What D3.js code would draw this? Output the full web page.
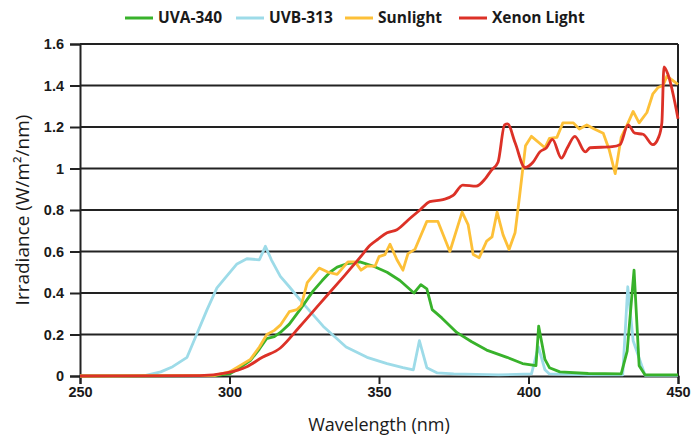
<!DOCTYPE html>
<html><head><meta charset="utf-8">
<script src="https://cdn.jsdelivr.net/npm/d3@7"></script>
<style>
html,body{margin:0;padding:0;background:#fff;}
svg{display:block;font-family:"Open Sans","Noto Sans",sans-serif;}
</style></head>
<body>
<svg id="chart" width="698" height="437"></svg>
<script>
// ---- data (wavelength nm, irradiance W/m²/nm) ----
const seriesNames = ["UVA-340", "UVB-313", "Sunlight", "Xenon Light"];
const seriesColors = ["#38b22b", "#9ddbe8", "#fdc038", "#dc3127"];
const xTicks = [250, 300, 350, 400, 450];
const yTicks = [0, 0.2, 0.4, 0.6, 0.8, 1, 1.2, 1.4, 1.6];

const uvb313 = [[250,0],[260,0],[272,0.003],[277,0.02],[281,0.045],[285.8,0.09],[289,0.2],[292.5,0.32],[295.8,0.425],[299,0.48],[302.5,0.54],[305.8,0.565],[310,0.56],[312,0.625],[314,0.56],[317,0.48],[320,0.43],[324.6,0.35],[331.3,0.24],[339,0.14],[346,0.09],[352.7,0.06],[358,0.04],[361.5,0.03],[363.5,0.17],[366,0.04],[369.5,0.015],[375,0.01],[390,0.005],[401,0.01],[403.3,0.14],[405.5,0.03],[407,0.01],[420,0.005],[431.5,0.005],[433.2,0.43],[435,0.17],[439,0.003],[450,0.003]];

const uva340 = [[250,0],[295,0.002],[300,0.01],[303.5,0.04],[307,0.075],[310,0.13],[312.4,0.18],[315,0.19],[317,0.21],[320,0.25],[323.6,0.32],[328,0.41],[331,0.46],[333.6,0.50],[336,0.525],[339,0.54],[343.6,0.55],[348,0.53],[352.7,0.50],[357,0.46],[361.7,0.40],[364,0.44],[366,0.42],[367.8,0.32],[371,0.28],[376,0.21],[381,0.165],[386,0.125],[392.8,0.09],[398,0.06],[402.5,0.05],[403.4,0.24],[405.5,0.08],[407,0.04],[410.5,0.02],[420,0.012],[431,0.01],[433,0.12],[435.3,0.51],[437,0.05],[439,0.005],[450,0.005]];

const sunlight = [[250,0],[295,0.003],[300,0.02],[303.5,0.05],[307,0.08],[310,0.14],[312.5,0.2],[315,0.22],[317,0.245],[320,0.31],[322.6,0.32],[324,0.34],[326,0.45],[330,0.52],[333,0.50],[336,0.49],[339.6,0.55],[342,0.55],[344,0.51],[346,0.53],[348.7,0.53],[350,0.575],[352,0.585],[353.7,0.635],[356,0.56],[358,0.51],[359.7,0.59],[362,0.61],[366,0.745],[369.7,0.745],[373.7,0.60],[377.8,0.79],[379.8,0.73],[381.5,0.585],[383.5,0.57],[386,0.65],[387.8,0.67],[389.5,0.79],[391.5,0.68],[393.5,0.61],[395.5,0.69],[397,0.865],[399,1.11],[401,1.155],[405.5,1.10],[407,1.145],[409.5,1.15],[411.5,1.22],[415,1.22],[417,1.19],[419.5,1.21],[422,1.19],[425,1.17],[427,1.09],[429,0.975],[431,1.15],[433,1.21],[435,1.275],[437,1.22],[439.6,1.27],[441.6,1.36],[443.3,1.39],[445,1.40],[446.3,1.445],[450,1.405]];

const xenon = [[250,0],[290,0.002],[299,0.015],[305.8,0.045],[311,0.09],[317,0.135],[323.6,0.24],[330.3,0.35],[337,0.46],[343.6,0.57],[347,0.63],[349.7,0.66],[352.7,0.69],[356,0.705],[360.4,0.76],[363.7,0.80],[367,0.84],[371.4,0.85],[374.8,0.87],[378,0.92],[382.5,0.915],[385.5,0.95],[387.5,0.99],[389.8,1.03],[392,1.21],[393,1.215],[395.5,1.125],[398.8,1.005],[401.5,1.03],[403.8,1.08],[406,1.10],[408,1.14],[411,1.05],[413,1.10],[415.5,1.155],[419,1.08],[420.6,1.10],[428,1.105],[430.6,1.115],[433.3,1.21],[435.6,1.17],[438.3,1.165],[441.6,1.115],[443.5,1.15],[444.6,1.22],[445.3,1.49],[446.6,1.455],[450,1.24]];

const seriesData = [uva340, uvb313, sunlight, xenon];
// draw order: blue, green, orange, red
const drawOrder = [1, 0, 2, 3];

// ---- layout ----
const W = 698, H = 437;
const m = {top: 44, right: 20, bottom: 61, left: 80};
const svg = d3.select("#chart");
const x = d3.scaleLinear().domain([250, 450]).range([m.left, W - m.right]);
const y = d3.scaleLinear().domain([0, 1.6]).range([H - m.bottom, m.top]);

// gridlines
svg.append("g").selectAll("line").data(yTicks.filter(d => d > 0)).join("line")
  .attr("x1", m.left).attr("x2", W - m.right)
  .attr("y1", d => y(d)).attr("y2", d => y(d))
  .attr("stroke", "#222").attr("stroke-width", 2);

// right border
svg.append("line").attr("x1", W - m.right).attr("x2", W - m.right)
  .attr("y1", y(1.6)).attr("y2", y(0)).attr("stroke", "#222").attr("stroke-width", 2);

// y axis
const yAxis = svg.append("g").attr("transform", `translate(${m.left},0)`)
  .call(d3.axisLeft(y).tickValues(yTicks).tickSize(10).tickPadding(6)
    .tickFormat(d => d === 0 ? "0" : d3.format("~g")(d)));
// x axis
const xAxis = svg.append("g").attr("transform", `translate(0,${y(0)})`)
  .call(d3.axisBottom(x).tickValues(xTicks).tickSize(8).tickPadding(3));

[yAxis, xAxis].forEach(a => {
  a.select(".domain").attr("stroke", "#222").attr("stroke-width", 2);
  a.selectAll(".tick line").attr("stroke", "#222").attr("stroke-width", 2);
  a.selectAll(".tick text").attr("fill", "#1a1a1a")
    .style("font-size", "14.5px").style("font-weight", "700");
});

// lines
const lineLinear = d3.line().x(d => x(d[0])).y(d => y(d[1]));
const lineSmooth = d3.line().x(d => x(d[0])).y(d => y(d[1])).curve(d3.curveMonotoneX);
drawOrder.forEach(i => {
  svg.append("path").datum(seriesData[i])
    .attr("fill", "none").attr("stroke", seriesColors[i])
    .attr("stroke-width", 2.8).attr("stroke-linejoin", "round")
    .attr("d", i === 3 ? lineSmooth : lineLinear);
});

// axis titles
svg.append("text").attr("x", (m.left + W - m.right) / 2).attr("y", 431)
  .attr("text-anchor", "middle").style("font-size", "18px").attr("fill", "#1a1a1a")
  .text("Wavelength (nm)");
svg.append("text").attr("transform", `translate(29,${(m.top + H - m.bottom) / 2}) rotate(-90)`)
  .attr("text-anchor", "middle").style("font-size", "19px").attr("fill", "#1a1a1a")
  .text("Irradiance (W/m²/nm)");

// legend
const legendX = [125, 236, 345, 459];
const leg = svg.append("g");
seriesNames.forEach((n, i) => {
  const g = leg.append("g").attr("transform", `translate(${legendX[i]},18)`);
  g.append("line").attr("x1", 0).attr("x2", 28).attr("stroke", seriesColors[i]).attr("stroke-width", 3);
  g.append("text").attr("x", 33).attr("dy", "0.35em")
    .style("font-size", "15.5px").style("font-weight", "700").attr("fill", "#1a1a1a").text(n);
});
</script>
</body></html>
